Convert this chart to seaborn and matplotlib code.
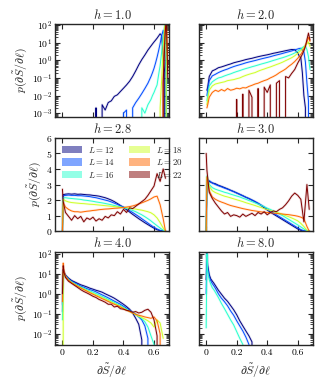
import numpy as np
import pandas as pd
import matplotlib
matplotlib.use("Agg")
import matplotlib.pyplot as plt
from matplotlib.patches import Patch
from matplotlib.ticker import LogLocator, NullFormatter
import seaborn as sns

# ---------------- data ----------------
sizes = [12, 14, 16, 18, 20, 22]
fields = [1.0, 2.0, 2.8, 3.0, 4.0, 8.0]
x_ticks = [0, 0.2, 0.4, 0.6]
x_tick_labels = ["0", "0.2", "0.4", "0.6"]

# h = 1.0 (log)
x_h10 = [0.20, 0.22, 0.24, 0.26, 0.28, 0.30, 0.32, 0.34, 0.36, 0.38, 0.40, 0.42, 0.44, 0.46,
         0.48, 0.50, 0.52, 0.54, 0.56, 0.58, 0.59, 0.60, 0.61, 0.62, 0.63, 0.64, 0.65, 0.66,
         0.67, 0.68, 0.69]
p_h10_L12 = [0, 0.002, 0, 0.003, 0.0015, 0.004, 0.005, 0.009, 0.011, 0.017, 0.026, 0.04, 0.065,
             0.12, 0.25, 0.55, 1.1, 2.0, 3.8, 6.5, 8.5, 11, 14, 18, 24, 32, 25, 2.0, 0.2, 0, 0]
p_h10_L14 = [0, 0, 0, 0, 0, 0, 0, 0, 0, 0, 0.001, 0.0015, 0, 0.002, 0.004, 0.007, 0.013, 0.025,
             0.05, 0.12, 0.2, 0.35, 0.7, 1.5, 3.5, 9, 25, 50, 5, 0.1, 0]
p_h10_L16 = [0, 0, 0, 0, 0, 0, 0, 0, 0, 0, 0, 0, 0, 0, 0, 0, 0.002, 0.001, 0.003, 0.006, 0.01,
             0.015, 0.025, 0.04, 0.15, 0.5, 3, 20, 100, 3, 0]
p_h10_L18 = [0, 0, 0, 0, 0, 0, 0, 0, 0, 0, 0, 0, 0, 0, 0, 0, 0, 0, 0, 0, 0, 0, 0, 0, 0,
             0.002, 0.08, 6, 80, 150, 0]
p_h10_L20 = [0, 0, 0, 0, 0, 0, 0, 0, 0, 0, 0, 0, 0, 0, 0, 0, 0, 0, 0, 0, 0, 0, 0, 0, 0, 0,
             0, 0.1, 40, 300, 0.3]
p_h10_L22 = [0, 0, 0, 0, 0, 0, 0, 0, 0, 0, 0, 0, 0, 0, 0, 0, 0, 0, 0, 0, 0, 0, 0, 0, 0, 0,
             0, 0.05, 8, 400, 0.1]

# h = 2.0 (log)
x_h20 = [0.005, 0.01, 0.02, 0.04, 0.06, 0.08, 0.10, 0.12, 0.14, 0.16, 0.18, 0.20, 0.22, 0.24,
         0.26, 0.28, 0.30, 0.32, 0.34, 0.36, 0.38, 0.40, 0.42, 0.44, 0.46, 0.48, 0.50, 0.52,
         0.54, 0.56, 0.58, 0.60, 0.61, 0.62, 0.63, 0.64, 0.65, 0.66, 0.67, 0.68]
p_h20_L12 = [0.02, 0.03, 0.12, 0.25, 0.3, 0.38, 0.42, 0.48, 0.55, 0.62, 0.72, 0.8, 0.88, 0.98,
             1.1, 1.2, 1.3, 1.45, 1.6, 1.75, 1.9, 2.05, 2.25, 2.5, 2.7, 2.95, 3.2, 3.5, 3.8,
             4.1, 4.0, 2.6, 1.7, 1.4, 0.2, 0.01, 0.002, 0, 0, 0]
p_h20_L14 = [0.01, 0.02, 0.07, 0.13, 0.16, 0.2, 0.24, 0.28, 0.32, 0.38, 0.44, 0.5, 0.56, 0.63,
             0.72, 0.8, 0.88, 0.97, 1.08, 1.2, 1.32, 1.45, 1.6, 1.8, 2.0, 2.2, 2.45, 2.75, 3.05,
             3.4, 3.9, 4.4, 4.7, 4.8, 4.0, 3.0, 0.8, 0.05, 0.005, 0]
p_h20_L16 = [0.005, 0.01, 0.035, 0.06, 0.08, 0.1, 0.11, 0.13, 0.15, 0.17, 0.2, 0.23, 0.26, 0.3,
             0.34, 0.38, 0.43, 0.48, 0.54, 0.61, 0.68, 0.76, 0.86, 0.98, 1.1, 1.25, 1.4, 1.6,
             1.85, 2.15, 2.6, 3.3, 3.8, 4.5, 5.3, 6.0, 6.5, 4.0, 1.6, 0.3]
p_h20_L18 = [0.003, 0.006, 0.02, 0.035, 0.045, 0.05, 0.055, 0.06, 0.07, 0.075, 0.08, 0.09, 0.1,
             0.12, 0.14, 0.16, 0.18, 0.2, 0.24, 0.28, 0.32, 0.37, 0.42, 0.49, 0.57, 0.66, 0.78,
             0.95, 1.15, 1.4, 1.8, 2.5, 3.0, 3.6, 4.3, 5.5, 7.0, 9.0, 11, 6]
p_h20_L20 = [0.002, 0.003, 0.008, 0.015, 0.02, 0.017, 0.022, 0.018, 0.025, 0.02, 0.022, 0.026,
             0.024, 0.028, 0.027, 0.033, 0.038, 0.045, 0.05, 0.06, 0.07, 0.08, 0.1, 0.12, 0.15,
             0.2, 0.25, 0.32, 0.45, 0.6, 0.85, 1.3, 1.7, 2.2, 3.0, 4.5, 7, 11, 20, 12]
p_h20_L22 = [0, 0, 0, 0, 0, 0, 0, 0, 0, 0, 0, 0.006, 0, 0.012, 0, 0.02, 0.008, 0, 0.025, 0,
             0.03, 0.015, 0.04, 0, 0.05, 0.07, 0, 0.12, 0.1, 0.18, 0.3, 0.7, 1.0, 1.5, 2.2, 3.5,
             6, 15, 35, 14]

# h = 2.8 and h = 3.0 (linear)
x_lin = [0.0, 0.005, 0.02, 0.04, 0.06, 0.08, 0.10, 0.12, 0.14, 0.16, 0.18, 0.20, 0.22, 0.24,
         0.26, 0.28, 0.30, 0.32, 0.34, 0.36, 0.38, 0.40, 0.42, 0.44, 0.46, 0.48, 0.50, 0.52,
         0.54, 0.56, 0.58, 0.60, 0.62, 0.64, 0.66, 0.675]
p_h28_L12 = [0, 2.35, 2.38, 2.40, 2.38, 2.40, 2.37, 2.38, 2.36, 2.34, 2.33, 2.30, 2.28, 2.25,
             2.2, 2.15, 2.08, 2.0, 1.9, 1.78, 1.65, 1.52, 1.38, 1.23, 1.08, 0.94, 0.8, 0.67,
             0.54, 0.42, 0.3, 0.19, 0.09, 0.03, 0.0, 0.0]
p_h28_L14 = [0, 2.28, 2.3, 2.32, 2.3, 2.3, 2.28, 2.28, 2.26, 2.24, 2.22, 2.18, 2.15, 2.1, 2.05,
             2.0, 1.95, 1.88, 1.8, 1.72, 1.63, 1.55, 1.45, 1.32, 1.2, 1.07, 0.94, 0.8, 0.66,
             0.52, 0.38, 0.25, 0.14, 0.05, 0.01, 0.0]
p_h28_L16 = [0, 2.15, 2.15, 2.12, 2.1, 2.08, 2.06, 2.04, 2.0, 1.98, 1.95, 1.92, 1.88, 1.85,
             1.82, 1.78, 1.74, 1.7, 1.65, 1.6, 1.56, 1.52, 1.46, 1.4, 1.33, 1.25, 1.15, 1.05,
             0.93, 0.8, 0.66, 0.5, 0.35, 0.2, 0.06, 0.0]
p_h28_L18 = [0, 2.05, 1.95, 1.88, 1.84, 1.82, 1.8, 1.78, 1.77, 1.75, 1.73, 1.72, 1.7, 1.68,
             1.66, 1.64, 1.62, 1.6, 1.58, 1.56, 1.54, 1.52, 1.5, 1.48, 1.45, 1.42, 1.38, 1.35,
             1.3, 1.25, 1.18, 1.05, 0.85, 0.55, 0.2, 0.0]
p_h28_L20 = [0, 1.85, 1.55, 1.4, 1.3, 1.25, 1.25, 1.22, 1.25, 1.28, 1.3, 1.33, 1.35, 1.38,
             1.4, 1.42, 1.43, 1.45, 1.47, 1.48, 1.5, 1.52, 1.55, 1.58, 1.62, 1.68, 1.75, 1.82,
             1.9, 1.98, 2.08, 2.2, 2.25, 1.7, 0.8, 0.0]
p_h28_L22 = [2.7, 1.9, 1.2, 0.95, 0.7, 1.0, 0.8, 0.95, 0.6, 0.85, 0.75, 0.9, 0.65, 0.8, 0.7,
             0.95, 0.85, 1.05, 1.0, 1.25, 1.1, 1.4, 1.2, 1.5, 1.45, 1.6, 1.75, 1.9, 2.05, 2.3,
             2.6, 2.9, 3.7, 3.2, 4.0, 3.4]

p_h30_L12 = [0, 3.0, 3.2, 3.1, 3.05, 2.95, 2.88, 2.8, 2.72, 2.63, 2.55, 2.46, 2.37, 2.28, 2.18,
             2.1, 2.0, 1.9, 1.78, 1.65, 1.5, 1.36, 1.22, 1.1, 0.98, 0.86, 0.74, 0.62, 0.5, 0.38,
             0.26, 0.14, 0.05, 0.0, 0.0, 0.0]
p_h30_L14 = [0, 3.3, 3.25, 3.1, 3.0, 2.92, 2.85, 2.77, 2.7, 2.62, 2.54, 2.45, 2.36, 2.27, 2.18,
             2.09, 2.0, 1.9, 1.8, 1.68, 1.56, 1.42, 1.3, 1.17, 1.05, 0.93, 0.81, 0.69, 0.57,
             0.45, 0.33, 0.21, 0.1, 0.02, 0.0, 0.0]
p_h30_L16 = [0, 3.55, 3.0, 2.8, 2.7, 2.63, 2.57, 2.5, 2.45, 2.38, 2.32, 2.26, 2.2, 2.12, 2.05,
             1.97, 1.9, 1.82, 1.74, 1.66, 1.57, 1.48, 1.4, 1.3, 1.2, 1.1, 1.0, 0.88, 0.76, 0.64,
             0.52, 0.4, 0.27, 0.14, 0.03, 0.0]
p_h30_L18 = [0, 3.45, 2.9, 2.6, 2.48, 2.4, 2.32, 2.25, 2.2, 2.14, 2.08, 2.02, 1.96, 1.9, 1.83,
             1.77, 1.71, 1.65, 1.58, 1.52, 1.45, 1.39, 1.33, 1.27, 1.22, 1.15, 1.08, 1.0, 0.93,
             0.85, 0.76, 0.66, 0.5, 0.3, 0.05, 0.0]
p_h30_L20 = [0, 3.5, 2.6, 2.2, 2.05, 1.95, 1.87, 1.8, 1.72, 1.65, 1.6, 1.55, 1.5, 1.45, 1.41,
             1.37, 1.33, 1.3, 1.27, 1.24, 1.22, 1.2, 1.18, 1.16, 1.14, 1.12, 1.1, 1.08, 1.06,
             1.03, 1.0, 0.96, 0.9, 0.8, 0.3, 0.0]
p_h30_L22 = [5.0, 3.9, 2.5, 2.1, 1.8, 1.55, 1.3, 1.1, 1.2, 0.95, 1.05, 1.0, 0.9, 1.1, 0.95,
             1.05, 1.15, 1.0, 1.2, 1.1, 1.25, 1.05, 1.2, 1.3, 1.25, 1.4, 1.5, 1.7, 1.95, 2.25,
             2.45, 2.3, 2.05, 0.6, 3.0, 1.4]

# h = 4.0 (log)
x_h40 = [0.0, 0.005, 0.01, 0.02, 0.04, 0.06, 0.08, 0.10, 0.12, 0.14, 0.16, 0.18, 0.20, 0.22,
         0.24, 0.26, 0.28, 0.30, 0.32, 0.34, 0.36, 0.38, 0.40, 0.42, 0.44, 0.46, 0.48, 0.50,
         0.52, 0.54, 0.56, 0.58, 0.60, 0.62, 0.64, 0.66]
p_h40_L12 = [0.13, 16, 12, 8.5, 6.0, 4.6, 3.9, 3.3, 2.8, 2.5, 2.2, 1.9, 1.7, 1.5, 1.35, 1.2,
             1.0, 0.85, 0.72, 0.6, 0.48, 0.38, 0.3, 0.23, 0.17, 0.11, 0.06, 0.03, 0.005, 0, 0,
             0, 0, 0, 0, 0]
p_h40_L14 = [0.3, 15, 11, 8, 5.5, 4.2, 3.5, 2.9, 2.4, 2.1, 1.8, 1.6, 1.45, 1.25, 1.05, 0.88,
             0.75, 0.63, 0.52, 0.43, 0.36, 0.3, 0.24, 0.19, 0.15, 0.12, 0.095, 0.07, 0.05,
             0.025, 0.006, 0, 0, 0, 0, 0]
p_h40_L16 = [0.05, 14, 10.5, 7.5, 5.2, 3.9, 3.2, 2.6, 2.2, 1.9, 1.6, 1.4, 1.2, 1.03, 0.87,
             0.73, 0.62, 0.52, 0.44, 0.37, 0.31, 0.26, 0.21, 0.17, 0.14, 0.115, 0.093, 0.075,
             0.058, 0.04, 0.022, 0.008, 0.003, 0, 0, 0]
p_h40_L18 = [0, 13, 10, 7, 4.9, 3.7, 3.0, 2.45, 2.0, 1.7, 1.45, 1.22, 1.03, 0.88, 0.75, 0.64,
             0.55, 0.46, 0.39, 0.33, 0.28, 0.23, 0.19, 0.16, 0.13, 0.11, 0.09, 0.075, 0.065,
             0.055, 0.045, 0.035, 0.022, 0.05, 0.035, 0.006]
p_h40_L20 = [0.4, 34, 14, 7.5, 4.8, 3.6, 2.9, 2.35, 1.95, 1.62, 1.35, 1.12, 0.95, 0.8, 0.68,
             0.57, 0.49, 0.41, 0.35, 0.3, 0.26, 0.22, 0.18, 0.15, 0.13, 0.11, 0.095, 0.085,
             0.078, 0.07, 0.065, 0.06, 0.07, 0.045, 0.01, 0]
p_h40_L22 = [1.0, 25, 12, 6.5, 4.2, 3.3, 2.6, 2.05, 1.6, 1.3, 1.1, 0.92, 0.75, 0.65, 0.52,
             0.45, 0.38, 0.3, 0.3, 0.22, 0.24, 0.18, 0.17, 0.15, 0.14, 0.12, 0.13, 0.11, 0.12,
             0.15, 0.17, 0.12, 0.05, 0.008, 0, 0]

# h = 8.0 (log) -- only the three smallest sizes
x_h80 = [0.0, 0.005, 0.01, 0.02, 0.03, 0.04, 0.05, 0.06, 0.08, 0.10, 0.12, 0.14, 0.16, 0.18,
         0.20, 0.22, 0.24, 0.26, 0.28, 0.30, 0.32]
p_h80_L12 = [5, 100, 25, 9, 5.5, 4.3, 3.4, 2.6, 1.5, 0.95, 0.6, 0.42, 0.26, 0.16, 0.09, 0.045,
             0.025, 0.014, 0.008, 0.004, 0]
p_h80_L14 = [1, 100, 18, 7, 4.5, 3.2, 2.5, 1.9, 1.0, 0.6, 0.4, 0.25, 0.14, 0.085, 0.045, 0.025,
             0.014, 0.007, 0.003, 0, 0]
p_h80_L16 = [0.02, 100, 14, 5, 3.0, 2.0, 1.6, 1.2, 0.65, 0.33, 0.18, 0.095, 0.05, 0.028, 0.013,
             0.006, 0.003, 0, 0, 0, 0]

panels = [
    (1.0, x_h10, [p_h10_L12, p_h10_L14, p_h10_L16, p_h10_L18, p_h10_L20, p_h10_L22]),
    (2.0, x_h20, [p_h20_L12, p_h20_L14, p_h20_L16, p_h20_L18, p_h20_L20, p_h20_L22]),
    (2.8, x_lin, [p_h28_L12, p_h28_L14, p_h28_L16, p_h28_L18, p_h28_L20, p_h28_L22]),
    (3.0, x_lin, [p_h30_L12, p_h30_L14, p_h30_L16, p_h30_L18, p_h30_L20, p_h30_L22]),
    (4.0, x_h40, [p_h40_L12, p_h40_L14, p_h40_L16, p_h40_L18, p_h40_L20, p_h40_L22]),
    (8.0, x_h80, [p_h80_L12, p_h80_L14, p_h80_L16]),
]

# ---------------- style ----------------
sns.set_style("ticks")
plt.rcParams.update({
    "font.family": "serif",
    "font.serif": ["cmr10", "DejaVu Serif"],
    "mathtext.fontset": "cm",
    "axes.unicode_minus": False,
    "axes.formatter.use_mathtext": True,
    "axes.linewidth": 1.0,
    "axes.edgecolor": "0.15",
    "xtick.direction": "in",
    "ytick.direction": "in",
    "xtick.top": True,
    "ytick.right": True,
    "xtick.major.size": 3.5,
    "ytick.major.size": 3.5,
    "xtick.major.width": 0.8,
    "ytick.major.width": 0.8,
    "xtick.minor.size": 2.0,
    "ytick.minor.size": 2.0,
    "xtick.minor.width": 0.6,
    "ytick.minor.width": 0.6,
    "xtick.color": "0.15",
    "ytick.color": "0.15",
    "xtick.labelcolor": "black",
    "ytick.labelcolor": "black",
    "xtick.labelsize": 7,
    "ytick.labelsize": 7,
    "xtick.major.pad": 2.5,
    "ytick.major.pad": 2.0,
})

jet = plt.get_cmap("jet")
hue_names = [str(L) for L in sizes]
palette = {n: jet(v) for n, v in zip(hue_names, np.linspace(0, 1, len(sizes)))}

fig, axes = plt.subplots(3, 2, figsize=(3.28, 3.87), dpi=100, sharex=True, sharey="row")
fig.subplots_adjust(left=0.168, right=0.953, top=0.938, bottom=0.1085,
                    wspace=0.264, hspace=0.22)

for i, (h, xs, curves) in enumerate(panels):
    ax = axes.flat[i]
    frames = []
    for L, ps in zip(sizes, curves):
        frames.append(pd.DataFrame({"x": xs, "p": ps, "L": str(L)}))
    df = pd.concat(frames, ignore_index=True)
    order = [str(L) for L in sizes[:len(curves)]]
    # light, wide underlay mimicking the statistical-error shading
    sns.lineplot(data=df, x="x", y="p", hue="L", hue_order=order, palette=palette,
                 estimator=None, sort=False, linewidth=1.8, alpha=0.14, legend=False, ax=ax)
    sns.lineplot(data=df, x="x", y="p", hue="L", hue_order=order, palette=palette,
                 estimator=None, sort=False, linewidth=0.7, legend=False, ax=ax)
    ax.set_title(f"$h=${h:.1f}", fontsize=9, pad=3.5)
    ax.set_xlabel("")
    ax.set_ylabel("")

ylim_rows = [(5.8e-4, 115), (0, 6), (2.8e-3, 125)]
for r in range(3):
    for c in range(2):
        ax = axes[r, c]
        if r != 1:
            ax.set_yscale("log")
            ax.yaxis.set_major_locator(LogLocator(base=10, numticks=15))
            ax.yaxis.set_minor_locator(LogLocator(base=10, subs=np.arange(2, 10), numticks=15))
            ax.yaxis.set_minor_formatter(NullFormatter())
        else:
            ax.set_yticks([0, 1, 2, 3, 4, 5, 6])
        ax.set_ylim(*ylim_rows[r])
        ax.set_xlim(-0.048, 0.697)
        ax.set_xticks(x_ticks)
        ax.tick_params(which="both", top=True, right=True)
        for s in ax.spines.values():
            s.set_linewidth(1.0)
            s.set_color("0.15")

for r in range(3):
    axes[r, 0].set_ylabel(r"$p(\partial\tilde{S}/\partial\ell)$", fontsize=8.5, labelpad=2)
for c in range(2):
    axes[2, c].set_xticklabels(x_tick_labels)
    axes[2, c].set_xlabel(r"$\partial\tilde{S}/\partial\ell$", fontsize=8.5, labelpad=4)

handles = [Patch(facecolor=palette[n], alpha=0.5, edgecolor="none") for n in hue_names]
labels = [f"$L=${L}" for L in sizes]
axes[1, 0].legend(handles, labels, ncol=2, loc="upper left", frameon=False, fontsize=6.4,
                  handlelength=2.3, handleheight=0.9, columnspacing=1.6, labelspacing=0.3,
                  handletextpad=0.7, borderaxespad=0.35)

fig.savefig("out.png", dpi=100)
